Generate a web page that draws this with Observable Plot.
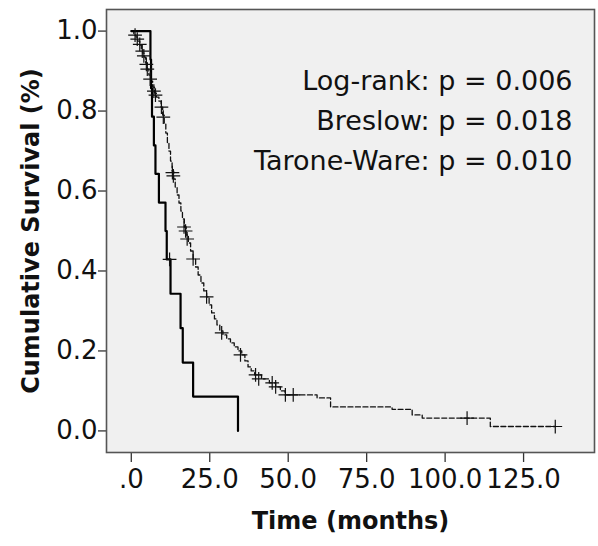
<!DOCTYPE html>
<html><head><meta charset="utf-8">
<script src="https://cdn.jsdelivr.net/npm/d3@7"></script>
<script src="https://cdn.jsdelivr.net/npm/@observablehq/plot@0.6"></script>
<style>body{margin:0;background:#fff}</style>
</head><body><div id="chart"></div>
<script>
// Solid group (event times in months, survival after event)
const solidTime = [0, 6.1, 6.3, 6.6, 7.2, 7.7, 8.8, 10.9, 11.3, 12.5, 15.7, 16.4, 19.7, 34.0];
const solidSurv = [1, 0.929, 0.857, 0.786, 0.714, 0.643, 0.571, 0.5, 0.429, 0.343, 0.257, 0.171, 0.086, 0];
const solidCensorTime = [12.2];
const solidCensorSurv = [0.429];

// Dashed group
const dashTime = [0, 0.8, 1.5, 2.0, 2.7, 3.2, 3.6, 4.1, 4.6, 5.1, 5.6, 6.2, 6.8, 7.4, 8.0, 8.8, 9.5, 10.0, 10.5, 11.0, 11.5, 12.0, 12.5, 13.0, 13.5, 14.0, 14.6, 15.2, 15.8, 16.3, 16.9, 17.5, 18.2, 18.9, 19.7, 20.5, 21.3, 22.2, 23.1, 24.0, 24.8, 25.6, 26.5, 27.3, 28.2, 29.2, 30.4, 31.6, 32.8, 34.0, 35.2, 36.2, 37.2, 38.2, 39.3, 41.5, 44.0, 46.0, 47.5, 49.0, 59.2, 63.5, 83.1, 89.5, 92.7, 114.4, 135.1];
const dashSurv = [1, 0.99, 0.985, 0.975, 0.965, 0.955, 0.945, 0.935, 0.92, 0.905, 0.89, 0.875, 0.86, 0.845, 0.835, 0.825, 0.81, 0.79, 0.77, 0.745, 0.72, 0.70, 0.675, 0.65, 0.63, 0.61, 0.59, 0.57, 0.55, 0.53, 0.51, 0.49, 0.47, 0.45, 0.43, 0.41, 0.39, 0.37, 0.35, 0.335, 0.315, 0.295, 0.28, 0.265, 0.25, 0.24, 0.23, 0.22, 0.21, 0.20, 0.19, 0.175, 0.16, 0.15, 0.14, 0.13, 0.12, 0.11, 0.10, 0.09, 0.0825, 0.06, 0.054, 0.04, 0.032, 0.011, 0.011];
const dashCensorTime = [1.2, 1.9, 2.7, 3.5, 4.0, 4.8, 5.1, 6.0, 7.2, 7.7, 9.6, 10.2, 13.1, 13.4, 16.8, 17.3, 17.8, 19.7, 24.0, 28.8, 34.8, 39.6, 40.6, 44.9, 46.0, 49.1, 51.6, 107.0, 135.1];
const dashCensorSurv = [0.99, 0.98, 0.967, 0.95, 0.938, 0.917, 0.905, 0.88, 0.85, 0.84, 0.81, 0.785, 0.646, 0.638, 0.51, 0.5, 0.48, 0.43, 0.335, 0.245, 0.19, 0.14, 0.13, 0.12, 0.11, 0.09, 0.09, 0.032, 0.011];

const xTicks = [0, 25, 50, 75, 100, 125];
const yTicks = [0, 0.2, 0.4, 0.6, 0.8, 1.0];
const testLabels = ["Log-rank: p = 0.006", "Breslow: p = 0.018", "Tarone-Ware: p = 0.010"];
const xTitle = "Time (months)";
const yTitle = "Cumulative Survival (%)";

const solid = solidTime.map((t, i) => ({t, s: solidSurv[i]}));
const dashed = dashTime.map((t, i) => ({t, s: dashSurv[i]}));
const solidC = solidCensorTime.map((t, i) => ({t, s: solidCensorSurv[i]}));
const dashC = dashCensorTime.map((t, i) => ({t, s: dashCensorSurv[i]}));

const chart = Plot.plot({
  width: 598,
  height: 546,
  marginLeft: 106,
  marginRight: 4,
  marginTop: 9,
  marginBottom: 94,
  style: {fontFamily: "DejaVu Sans", fontSize: "26px", background: "#fff", color: "#111"},
  x: {domain: [-7.9, 147.6]},
  y: {domain: [-0.054, 1.054]},
  marks: [
    Plot.frame({fill: "#f0f0f0", stroke: null}),
    Plot.axisX({ticks: xTicks, tickFormat: d => d === 0 ? ".0" : d.toFixed(1), tickSize: 10, tickPadding: 7, label: null, stroke: "#333", strokeWidth: 1.3}),
    Plot.axisY({ticks: yTicks, tickFormat: d3.format(".1f"), tickSize: 8, tickPadding: 1, label: null, stroke: "#333", strokeWidth: 1.3}),
    Plot.line(dashed, {x: "t", y: "s", curve: "step-after", stroke: "#111", strokeWidth: 1.3, strokeDasharray: "5,2.5"}),
    Plot.line(solid, {x: "t", y: "s", curve: "step-after", stroke: "#000", strokeWidth: 2.2}),
    Plot.dot(dashC, {x: "t", y: "s", symbol: "plus", r: 4.5, stroke: "#111", strokeWidth: 1.2}),
    Plot.dot(solidC, {x: "t", y: "s", symbol: "plus", r: 4.5, stroke: "#111", strokeWidth: 1.2}),
    Plot.text([testLabels.join("\n")], {frameAnchor: "top-right", textAnchor: "end", lineAnchor: "top", lineHeight: 40/27, dx: -22, dy: 52, fontSize: 27, fill: "#111"}),
    Plot.text([xTitle], {frameAnchor: "bottom", textAnchor: "middle", dy: 76, fontSize: 24, fontWeight: "bold", fill: "#111"}),
    Plot.text([yTitle], {frameAnchor: "left", textAnchor: "middle", dx: -75, rotate: -90, fontSize: 24, fontWeight: "bold", fill: "#111"}),
    Plot.frame({stroke: "#555", strokeWidth: 1.6})
  ]
});
document.getElementById("chart").append(chart);
</script></body></html>
